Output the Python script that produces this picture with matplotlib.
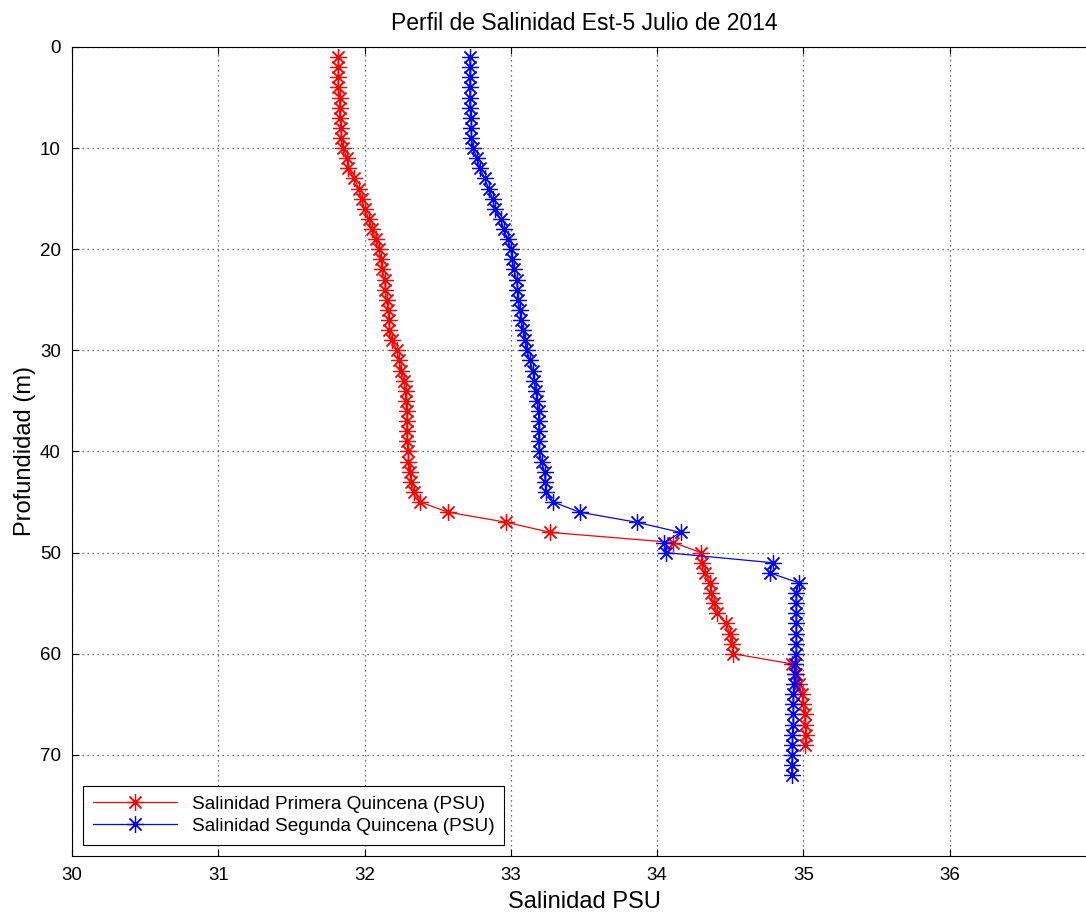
import matplotlib
matplotlib.use("Agg")
import matplotlib.pyplot as plt

plt.rcParams['font.family'] = ['Liberation Sans', 'DejaVu Sans']

# Salinity profiles (depth in m, salinity in PSU)
depth_1 = list(range(1, 70))
sal_1 = [31.82, 31.82, 31.82, 31.82, 31.83, 31.83, 31.83, 31.84, 31.84, 31.855,
         31.88, 31.89, 31.93, 31.96, 31.98, 32.00, 32.03, 32.05, 32.08, 32.10,
         32.11, 32.12, 32.14, 32.14, 32.15, 32.16, 32.167, 32.17, 32.19, 32.22,
         32.235, 32.25, 32.27, 32.28, 32.28, 32.29, 32.29, 32.29, 32.29, 32.30,
         32.30, 32.31, 32.32, 32.34, 32.38, 32.57, 32.97, 33.27, 34.11, 34.30,
         34.31, 34.33, 34.36, 34.37, 34.39, 34.41, 34.47, 34.50, 34.51, 34.52,
         34.92, 34.95, 34.97, 34.99, 35.00, 35.01, 35.01, 35.02, 35.01]

depth_2 = list(range(1, 73))
sal_2 = [32.72, 32.72, 32.72, 32.72, 32.72, 32.72, 32.73, 32.73, 32.73, 32.74,
         32.77, 32.79, 32.82, 32.85, 32.875, 32.89, 32.93, 32.95, 32.98, 33.00,
         33.01, 33.02, 33.04, 33.045, 33.05, 33.06, 33.07, 33.085, 33.10, 33.11,
         33.13, 33.15, 33.16, 33.17, 33.18, 33.19, 33.19, 33.19, 33.19, 33.195,
         33.21, 33.23, 33.235, 33.24, 33.29, 33.47, 33.86, 34.16, 34.05, 34.06,
         34.79, 34.77, 34.97, 34.95, 34.95, 34.95, 34.95, 34.95, 34.95, 34.95,
         34.94, 34.94, 34.935, 34.93, 34.93, 34.93, 34.93, 34.925, 34.925, 34.925,
         34.92, 34.92]

x_ticks = [30, 31, 32, 33, 34, 35, 36]
y_ticks = [0, 10, 20, 30, 40, 50, 60, 70]

fig = plt.figure(figsize=(10.86, 9.13), dpi=100)
# axes runs slightly past the right edge, as in the original (cropped) figure
ax = fig.add_axes([72 / 1086, 1 - 856 / 913, (1096 - 72) / 1086, (856 - 47) / 913])

asterisk = (8, 2, 0)
ax.plot(sal_1, depth_1, color='red', lw=0.9, marker=asterisk, ms=12, mew=0.9,
        label='Salinidad Primera Quincena (PSU)')
ax.plot(sal_2, depth_2, color='blue', lw=0.9, marker=asterisk, ms=12, mew=0.9,
        label='Salinidad Segunda Quincena (PSU)')

ax.set_xlim(30, 37)
ax.set_ylim(80, 0)
ax.set_xticks(x_ticks)
ax.set_yticks(y_ticks)
ax.tick_params(direction='in', top=True, right=True, labelsize=13.5, length=5, pad=8)
ax.grid(True, linestyle=(0, (1, 3)), color='#444444', lw=0.9)

ax.set_xlabel("Salinidad PSU", fontsize=17, labelpad=5)
ax.set_ylabel("Profundidad (m)", fontsize=17, labelpad=3)
ax.set_title("Perfil de Salinidad Est-5 Julio de 2014", fontsize=16.5, pad=12)

leg = ax.legend(loc='lower left', fontsize=13.7, handlelength=4.4, fancybox=False,
                framealpha=1, edgecolor='black', borderaxespad=0.6,
                labelspacing=0.25, borderpad=0.5)
leg.get_frame().set_linewidth(0.8)

plt.savefig("out.png", dpi=100)
